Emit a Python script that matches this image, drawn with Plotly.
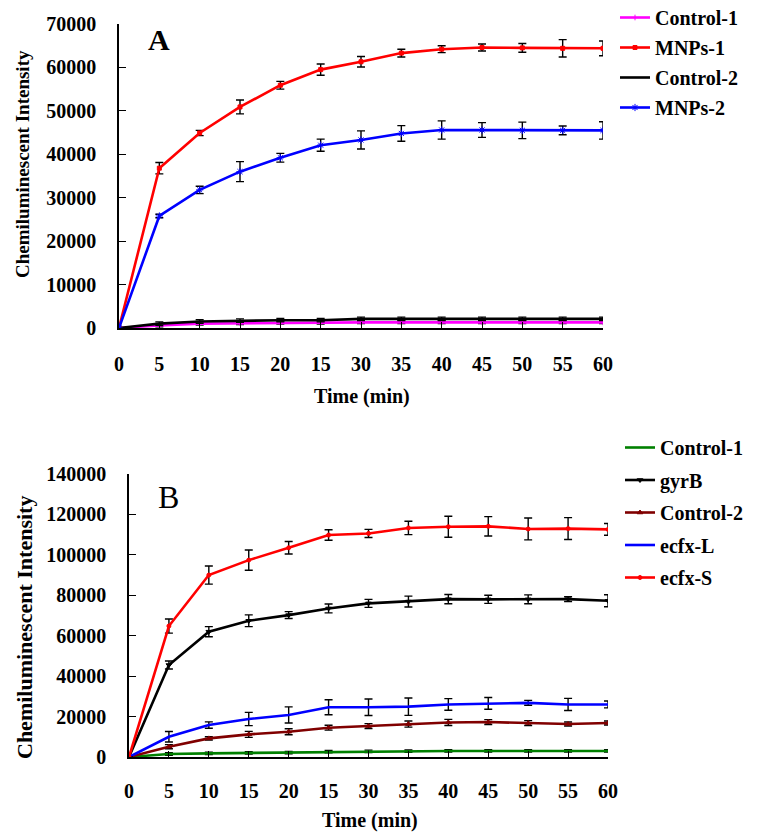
import plotly.graph_objects as go

# page body adds an 8px margin; the figure is placed at (8, 8) in the 757x834 window
OFF = 8
W, H = 757 - OFF, 834 - OFF

# ---------------- data ----------------
time_min = [0, 5, 10, 15, 20, 25, 30, 35, 40, 45, 50, 55, 60]
x_tick_text = ["0", "5", "10", "15", "20", "15", "30", "35", "40", "45", "50", "55", "60"]

# Panel A
a_control1 = [0, 600, 1000, 1100, 1200, 1200, 1300, 1300, 1300, 1300, 1300, 1300, 1300]
a_control1_err = [0, 300, 300, 300, 300, 300, 300, 300, 300, 300, 300, 300, 300]
a_mnps1 = [0, 36800, 44900, 50900, 55900, 59500, 61300, 63300, 64200, 64600, 64500, 64400, 64400]
a_mnps1_err = [0, 1300, 600, 1600, 900, 1300, 1200, 900, 800, 800, 1000, 2000, 1700]
a_control2 = [0, 1000, 1500, 1700, 1800, 1800, 2100, 2100, 2100, 2100, 2100, 2100, 2100]
a_control2_err = [0, 400, 400, 400, 400, 400, 400, 400, 400, 400, 400, 400, 400]
a_mnps2 = [0, 25800, 31800, 36000, 39200, 42100, 43300, 44800, 45600, 45600, 45500, 45500, 45500]
a_mnps2_err = [0, 400, 850, 2300, 1000, 1400, 2100, 1800, 2100, 1700, 1900, 1000, 2000]
a_y_ticks = [0, 10000, 20000, 30000, 40000, 50000, 60000, 70000]

# Panel B
b_control1 = [0, 1500, 1800, 2000, 2200, 2700, 2800, 2900, 3000, 3000, 3000, 3000, 3000]
b_control1_err = [0, 600, 600, 600, 600, 600, 600, 600, 600, 600, 600, 600, 600]
b_gyrb = [0, 45500, 62000, 67400, 70200, 73500, 76000, 76900, 78100, 78000, 78000, 78100, 77300]
b_gyrb_err = [0, 2000, 2500, 2900, 1700, 2200, 2000, 2700, 2300, 2000, 2200, 1200, 3000]
b_control2 = [0, 5100, 9200, 11200, 12500, 14500, 15300, 16300, 17100, 17300, 16800, 16300, 16800]
b_control2_err = [0, 1000, 800, 1500, 1500, 1200, 1200, 1500, 1500, 1200, 1200, 1000, 1000]
b_ecfxl = [0, 10000, 15800, 18800, 20800, 24600, 24600, 24900, 26000, 26500, 26800, 26000, 26000]
b_ecfxl_err = [0, 2600, 1600, 3300, 4000, 3700, 4100, 4300, 2900, 2900, 1200, 3000, 1700]
b_ecfxs = [0, 64800, 90000, 97400, 103500, 109800, 110600, 113300, 113900, 114100, 112800, 113000, 112600]
b_ecfxs_err = [0, 3500, 4500, 5000, 3100, 2600, 2000, 3300, 5200, 4800, 5400, 5400, 2900]
b_y_ticks = [0, 20000, 40000, 60000, 80000, 100000, 120000, 140000]

FONT = "Liberation Serif, Times New Roman, serif"

def px_x(p):
    return (p - OFF) / W

def px_y(p):
    return 1 - (p - OFF) / H

fig = go.Figure()

def add(x, y, err, name, color, xa, ya, legend, symbol=None, msize=4):
    mode = "lines+markers" if symbol else "lines"
    fig.add_trace(go.Scatter(
        x=x, y=y, name=name, mode=mode,
        line=dict(color=color, width=2.6),
        marker=dict(symbol=symbol or "circle", size=msize, color=color,
                    line=dict(color=color, width=1)),
        error_y=dict(type="data", array=err, color="black", thickness=1.4, width=4),
        xaxis=xa, yaxis=ya, legend=legend, legendgroup=name + legend,
    ))

# Panel A traces
add(time_min, a_control1, a_control1_err, "Control-1", "#FF00FF", "x", "y", "legend", "line-ns-open", 4)
add(time_min, a_mnps1, a_mnps1_err, "MNPs-1", "#FF0000", "x", "y", "legend", "square", 4)
add(time_min, a_control2, a_control2_err, "Control-2", "#000000", "x", "y", "legend")
add(time_min, a_mnps2, a_mnps2_err, "MNPs-2", "#0000FF", "x", "y", "legend", "asterisk-open", 6)

# Panel B traces
add(time_min, b_control1, b_control1_err, "Control-1", "#008000", "x2", "y2", "legend2")
add(time_min, b_gyrb, b_gyrb_err, "gyrB", "#000000", "x2", "y2", "legend2", "triangle-down", 5)
add(time_min, b_control2, b_control2_err, "Control-2", "#800000", "x2", "y2", "legend2", "triangle-up", 5)
add(time_min, b_ecfxl, b_ecfxl_err, "ecfx-L", "#0000FF", "x2", "y2", "legend2")
add(time_min, b_ecfxs, b_ecfxs_err, "ecfx-S", "#FF0000", "x2", "y2", "legend2", "circle", 4)

tickfont = dict(family=FONT, size=20, color="black", weight="bold")

def xaxis(domain, anchor, standoff):
    return dict(domain=domain, anchor=anchor, range=[0, 60], tickmode="array",
                tickvals=time_min, ticktext=x_tick_text, ticks="inside", ticklen=6,
                tickwidth=1.3, tickcolor="black", showline=True, linecolor="black",
                linewidth=1.6, showgrid=False, zeroline=False, tickfont=tickfont,
                ticklabelstandoff=standoff, automargin=False)

def yaxis(domain, anchor, ticks, top):
    return dict(domain=domain, anchor=anchor, range=[0, top], tickmode="array",
                tickvals=ticks, ticktext=[str(t) for t in ticks], ticks="inside",
                ticklen=7, tickwidth=1.3, tickcolor="black", showline=True,
                linecolor="black", linewidth=1.6, showgrid=False, zeroline=False,
                tickfont=tickfont, ticklabelstandoff=17, automargin=False)

legend_common = dict(xanchor="left", yanchor="top", bgcolor="rgba(0,0,0,0)",
                     font=dict(family=FONT, size=20, color="black", weight="bold"),
                     itemwidth=30)

fig.update_layout(
    width=W, height=H, margin=dict(l=0, r=0, t=0, b=0, autoexpand=False),
    paper_bgcolor="white", plot_bgcolor="white",
    xaxis=xaxis([px_x(119), px_x(603)], "y", 17),
    yaxis=yaxis([px_y(328), px_y(24)], "x", a_y_ticks, 70000),
    xaxis2=xaxis([px_x(129), px_x(608)], "y2", 15),
    yaxis2=yaxis([px_y(757), px_y(474)], "x2", b_y_ticks, 140000),
    legend=dict(x=px_x(615), y=px_y(-2), tracegroupgap=1, **legend_common),
    legend2=dict(x=px_x(620), y=px_y(428), tracegroupgap=3.5, **legend_common),
    showlegend=True,
)

ann_font = dict(family=FONT, color="black", weight="bold")
annotations = [
    dict(text="A", x=px_x(159), y=px_y(40), font=dict(family=FONT, size=30, color="black", weight="bold")),
    dict(text="B", x=px_x(168), y=px_y(497), font=dict(family=FONT, size=32, color="black")),
    dict(text="Chemiluminescent Intensity", x=px_x(23), y=px_y(164), textangle=-90,
         font=dict(size=19, **ann_font)),
    dict(text="Chemiluminescent Intensity", x=px_x(24), y=px_y(628), textangle=-90,
         font=dict(size=22, **ann_font)),
    dict(text="Time (min)", x=px_x(362), y=px_y(397), font=dict(size=20, **ann_font)),
    dict(text="Time (min)", x=px_x(370), y=px_y(820), font=dict(size=20, **ann_font)),
]
for a in annotations:
    a.update(xref="paper", yref="paper", showarrow=False, xanchor="center", yanchor="middle")
fig.update_layout(annotations=annotations)

fig.write_html("out.html")
